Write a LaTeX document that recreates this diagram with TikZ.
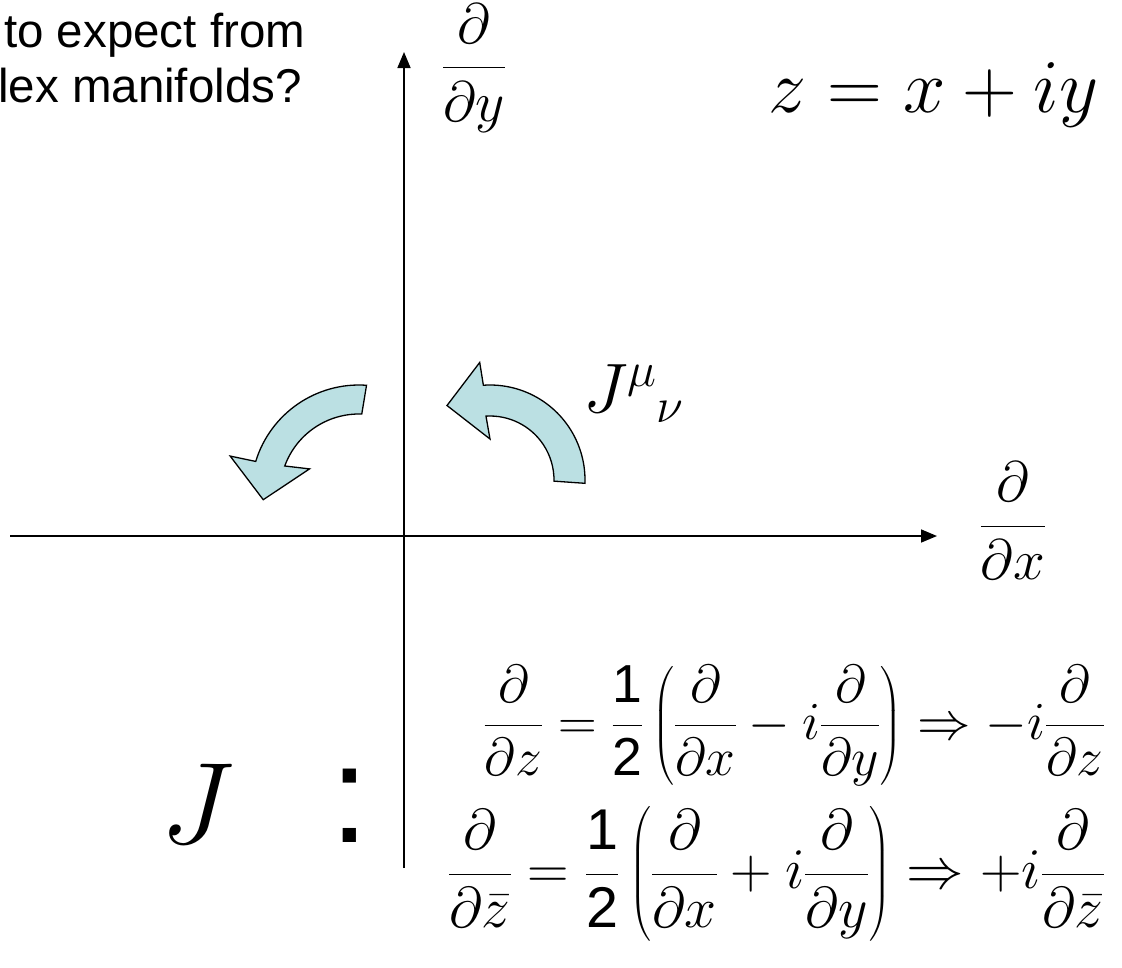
\RequirePackage{fix-cm}
\documentclass[tikz,border=0pt]{standalone}
\usepackage{amsmath}
\usepackage{fontspec}
\setsansfont{Liberation Sans}
\newfontfamily\slidefont{Liberation Sans}
\usetikzlibrary{arrows.meta}
\definecolor{TurnFill}{HTML}{BBE0E3}

\begin{document}
\begin{tikzpicture}[x=1pt,y=-1pt,
    >={Triangle[length=16pt,width=13pt]},
    axis/.style={->,line width=1.6pt},
    turn/.style={draw=black,fill=TurnFill,line width=1.3pt,line join=miter},
    title/.style={anchor=base west,inner sep=0pt,font=\slidefont\fontsize{47.5}{56}\selectfont},
    frac/.style={inner sep=0pt,font=\fontsize{57}{68}\selectfont},
    eqn/.style={anchor=east,inner sep=0pt}
  ]
  \path[use as bounding box] (0,0) rectangle (1122,967);

  % slide title, cut off at the left
  \node[title] (titleA) at (4,47) {to expect from};
  \node[title] (titleB) at (-2,102) {lex manifolds?};

  % tangent plane
  \coordinate (ybot) at (404,868);
  \coordinate (ytop) at (404,52);
  \coordinate (xleft) at (10,536);
  \coordinate (xright) at (937,536);
  \draw[axis] (ybot) -- (ytop);
  \draw[axis] (xleft) -- (xright);
  \node[frac] (dy) at (474,68) {$\displaystyle\frac{\partial}{\partial y}$};
  \node[frac] (dx) at (1013,521) {$\displaystyle\frac{\partial}{\partial x}$};
  \node[anchor=base west,inner sep=0pt,font=\fontsize{76}{90}\selectfont]
    (zdef) at (768,112) {$z=x+iy$};

  % rotation by J
  \begin{scope}[shift={(490,480)}]
    \draw[turn] (2:95) arc[start angle=2,end angle=-94,radius=95]
      -- (-95:118) -- (-120:86) -- (-90:41) -- (-93.6:64)
      arc[start angle=-93.6,end angle=1,radius=64] -- cycle;
  \end{scope}
  \begin{scope}[shift={(359,493)}]
    \draw[turn] (-86:108) arc[start angle=-86,end angle=-163,radius=108]
      -- (-164:134) -- (-184:96) -- (-154:55) -- (-160:79)
      arc[start angle=-160,end angle=-88,radius=79] -- cycle;
  \end{scope}
  \node[anchor=base west,inner sep=0pt,font=\fontsize{70}{82}\selectfont]
    (Jmunu) at (583,412) {$J^{\mu}{}_{\nu}$};

  % action on the complex basis
  \node[anchor=base west,inner sep=0pt,font=\fontsize{116}{136}\selectfont]
    (Jop) at (160,843) {$J$};
  \node[anchor=base west,inner sep=0pt,font=\slidefont\fontsize{139}{160}\selectfont]
    (colon) at (330,842) {:};
  \node[eqn,font=\fontsize{53.5}{64}\selectfont] (eqz) at (1105,726)
    {$\displaystyle\frac{\partial}{\partial z}=\frac{\textsf{1}}{\textsf{2}}
      \left(\frac{\partial}{\partial x}-i\frac{\partial}{\partial y}\right)
      \Rightarrow -i\frac{\partial}{\partial z}$};
  \node[eqn,font=\fontsize{57.5}{69}\selectfont] (eqzbar) at (1105,874)
    {$\displaystyle\frac{\partial}{\partial\bar{z}}=\frac{\textsf{1}}{\textsf{2}}
      \left(\frac{\partial}{\partial x}+i\frac{\partial}{\partial y}\right)
      \Rightarrow +i\frac{\partial}{\partial\bar{z}}$};
\end{tikzpicture}
\end{document}
